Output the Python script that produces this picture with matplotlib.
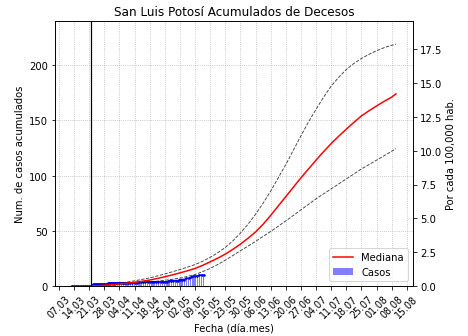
import numpy as np
import pandas as pd
import matplotlib
matplotlib.use("Agg")
import matplotlib.pyplot as plt
import matplotlib.dates as mdates

inicio = pd.Timestamp("2020-03-07")
poblacion = 1226000
inicio_modelo = pd.Timestamp("2020-03-22")

# casos acumulados observados (dias desde 07.03)
dias_casos = list(range(6, 68))
casos = ([0] * 10 + [2] * 7 + [3] * 14 + [4] * 14 + [5] * 5 + [6] * 3
         + [7, 7, 8, 9, 9, 9, 10, 10, 10])

# proyeccion del modelo: mediana y banda
dias_modelo = [14, 17.5, 21, 24.5, 28, 31.5, 35, 38.5, 42, 45.5, 49, 52.5,
               56, 59.5, 63, 66.5, 70, 73.5, 77, 80.5, 84, 87.5, 91, 94.5,
               98, 101.5, 105, 108.5, 112, 115.5, 119, 122.5, 126, 129.5,
               133, 136.5, 140, 143.5, 147, 150.5, 154, 156]
mediana = [0, 0.3, 0.8, 1.3, 2, 2.7, 3.5, 4.4, 5.5, 6.9, 8.5, 10.2,
           12, 13.9, 16, 18.8, 22, 25.3, 29, 33.3, 38, 43.3, 49, 56,
           64, 72.5, 81, 89.5, 98, 106, 114, 121.7, 129, 135.7,
           142, 148.2, 154, 158.7, 163, 167.2, 171, 174]
superior = [0, 0.6, 1.2, 2, 2.8, 3.7, 4.8, 6.1, 7.5, 9.2, 11, 13,
            15, 17.2, 19.5, 22.5, 26, 30.2, 35, 41, 48, 56, 65, 75,
            86, 98, 110, 123, 136, 148.5, 160, 171, 181, 189,
            196, 201.5, 206, 209.8, 213, 215.8, 218, 219]
inferior = [0, 0.2, 0.5, 0.9, 1.3, 1.8, 2.3, 3, 3.7, 4.5, 5.3, 6.2,
            7.3, 8.8, 10.5, 13.1, 16, 19.6, 23.5, 27.7, 32, 36.2, 40.5, 45,
            49.5, 54.2, 59, 64, 69, 74, 79, 83.5, 88, 92.5,
            97, 101.5, 106, 110, 114, 118, 122, 124.5]

f_casos = inicio + pd.to_timedelta(dias_casos, unit="D")
f_modelo = inicio + pd.to_timedelta(dias_modelo, unit="D")

fig = plt.figure(figsize=(6.5, 4.68), dpi=72)
ax = fig.add_axes([0.1175, 0.148, 0.765, 0.787])

ax.bar(f_casos, casos, width=0.6, color="blue", alpha=0.5, linewidth=0, label="Casos")
ax.plot(f_casos, casos, "b.-", markersize=3, linewidth=1.5)
ax.plot(f_modelo, superior, "k--", linewidth=0.9, alpha=0.75)
ax.plot(f_modelo, inferior, "k--", linewidth=0.9, alpha=0.75)
ax.plot(f_modelo, mediana, "r-", linewidth=1.5, label="Mediana")
ax.axvline(inicio_modelo, color="k", linewidth=1.2)

ticks = pd.date_range("2020-03-07", "2020-08-15", freq="7D")
ax.set_xticks(ticks)
ax.xaxis.set_major_formatter(mdates.DateFormatter("%d.%m"))
plt.setp(ax.get_xticklabels(), rotation=45, fontsize=9.5)
ax.set_xlim(inicio - pd.Timedelta(days=1.85), inicio + pd.Timedelta(days=163.9))
ax.set_ylim(0, 240)
ax.grid(True, linestyle=":", color="gray", alpha=0.6)

ax.set_title("San Luis Potosí Acumulados de Decesos", fontsize=12)
ax.set_xlabel("Fecha (día.mes)")
ax.set_ylabel("Num. de casos acumulados")
ax.legend(loc="lower right")

ax2 = ax.twinx()
ax2.set_ylim(0, 240 * 100000 / poblacion)
ax2.set_yticks(np.arange(0, 18, 2.5))
ax2.set_ylabel("Por cada 100,000 hab.")

fig.savefig("out.png", dpi=72)
